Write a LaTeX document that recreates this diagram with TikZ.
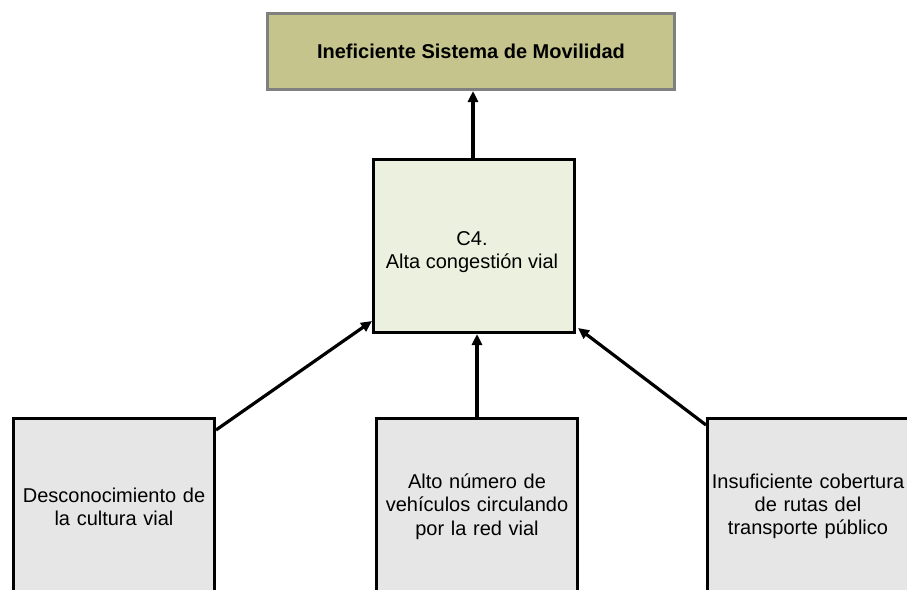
\documentclass[tikz,border=0pt]{standalone}
\usepackage{fontspec}
\setmainfont{Liberation Sans}
\usetikzlibrary{arrows.meta}
\definecolor{olivefill}{HTML}{C4C48C}
\definecolor{oliveedge}{HTML}{808080}
\definecolor{greenfill}{HTML}{EBF1DE}
\definecolor{grayfill}{HTML}{E6E6E6}
\tikzset{
  boxbase/.style={rectangle, anchor=north west, inner sep=0pt, align=center,
    font=\fontsize{20}{23.3}\selectfont},
  topbox/.style={boxbase, draw=oliveedge, line width=3pt, fill=olivefill,
    minimum width=407pt, minimum height=76pt},
  midbox/.style={boxbase, draw=black, line width=3pt, fill=greenfill,
    minimum width=201pt, minimum height=173pt},
  causebox/.style={boxbase, draw=black, line width=3pt, fill=grayfill,
    minimum width=201pt, minimum height=176pt, text width=201pt},
  arr/.style={line width=3.2pt, -{Triangle[length=11pt,width=10pt]}},
  txt/.style={inner sep=0pt, align=center, font=\fontsize{20}{23.3}\selectfont}
}
\begin{document}
\begin{tikzpicture}[x=1pt,y=-1pt]
\useasboundingbox (0,0) rectangle (907,589);
\clip (0,0) rectangle (907,589);
\node[topbox] (top) at (266,12) {\textbf{Ineficiente Sistema de Movilidad}};
\node[midbox] (c4) at (372,158) {};
\node[txt] (c4t) at (472,252) {C4.\\Alta congestión vial};
\node[causebox] (left) at (12,417) {Desconocimiento de\\la cultura vial};
\node[causebox] (mid) at (375,417) {Alto número de\\vehículos circulando\\por la red vial};
\node[causebox] (right) at (706,417) {Insuficiente cobertura\\de rutas del\\transporte público};
\draw[arr] ([xshift=-1pt]c4.north) -- ([xshift=-1pt]c4.north |- top.south);
\draw[arr] ([yshift=-13pt]left.north east) -- ([yshift=13pt]c4.south west);
\draw[arr] (mid.north) -- (mid.north |- c4.south);
\draw[arr] ([yshift=-8pt]right.north west) -- ([xshift=2pt,yshift=6pt]c4.south east);
\end{tikzpicture}
\end{document}
